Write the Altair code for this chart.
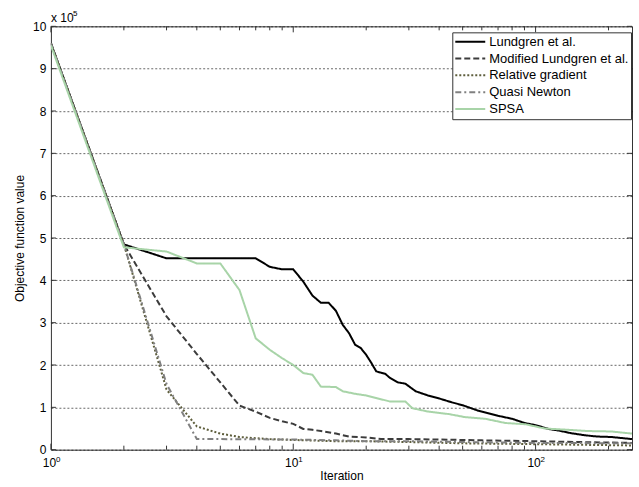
import altair as alt
import pandas as pd

# ---- data (objective value in units of 1e5) ----
lund_it = [1, 2, 3, 4, 5, 6, 7, 8, 9, 10, 11, 12, 13, 14, 15, 16, 17, 18, 19, 20, 21, 22, 23, 24, 25, 27, 29, 32, 36, 40, 45, 50, 58, 65, 70, 80, 90, 100, 113, 125, 140, 160, 180, 205, 250]
lund_v = [9.6, 4.85, 4.52, 4.52, 4.52, 4.52, 4.52, 4.32, 4.26, 4.26, 3.97, 3.64, 3.47, 3.47, 3.28, 2.95, 2.75, 2.48, 2.40, 2.24, 2.05, 1.85, 1.82, 1.79, 1.70, 1.59, 1.56, 1.38, 1.28, 1.21, 1.12, 1.05, 0.92, 0.85, 0.80, 0.73, 0.63, 0.58, 0.49, 0.45, 0.39, 0.34, 0.31, 0.30, 0.25]

mod_it = [1, 2, 3, 4, 5, 6, 7, 8, 9, 10, 11, 12, 13, 15, 17, 20, 23, 30, 40, 60, 100, 150, 250]
mod_v = [9.6, 4.85, 3.15, 2.26, 1.59, 1.04, 0.90, 0.75, 0.67, 0.61, 0.49, 0.47, 0.44, 0.38, 0.31, 0.29, 0.25, 0.25, 0.24, 0.22, 0.20, 0.18, 0.16]

rel_it = [1, 2, 3, 4, 5, 6, 7, 8, 10, 15, 20, 30, 50, 100, 250]
rel_v = [9.6, 4.85, 1.42, 0.55, 0.38, 0.30, 0.27, 0.25, 0.23, 0.20, 0.20, 0.18, 0.15, 0.13, 0.10]

qn_it = [1, 2, 3, 4, 5, 10, 15, 20, 30, 50, 100, 250]
qn_v = [9.6, 4.85, 1.55, 0.25, 0.25, 0.24, 0.22, 0.20, 0.20, 0.18, 0.16, 0.15]

spsa_it = [1, 2, 3, 4, 5, 6, 7, 8, 9, 10, 11, 12, 13, 15, 16, 18, 20, 22, 25, 29, 31, 36, 44, 51, 62, 75, 91, 109, 136, 165, 205, 250]
spsa_v = [9.55, 4.78, 4.68, 4.40, 4.40, 3.77, 2.63, 2.36, 2.16, 2.00, 1.81, 1.77, 1.49, 1.48, 1.38, 1.32, 1.28, 1.22, 1.14, 1.14, 0.98, 0.90, 0.84, 0.77, 0.73, 0.63, 0.60, 0.50, 0.47, 0.44, 0.43, 0.38]

series_names = ["Lundgren et al.", "Modified Lundgren et al.", "Relative gradient", "Quasi Newton", "SPSA"]
series_colors = ["#000000", "#3c3c3c", "#5e5e3c", "#808080", "#a8d4a8"]
series_dashes = [[1, 0], [6, 3], [2, 2], [6, 3, 2, 3], [1, 0]]

x_major = [1, 10, 100]
x_minor = [2, 3, 4, 5, 6, 7, 8, 9, 20, 30, 40, 50, 60, 70, 80, 90, 200]
y_ticks = [0, 1, 2, 3, 4, 5, 6, 7, 8, 9, 10]
exponents = ["0", "1", "2"]

rows = []
for name, its, vals in zip(series_names,
                           [lund_it, mod_it, rel_it, qn_it, spsa_it],
                           [lund_v, mod_v, rel_v, qn_v, spsa_v]):
    for i, v in zip(its, vals):
        rows.append({"Iteration": i, "Value": v, "Series": name})
df = pd.DataFrame(rows)

W, H = 582, 424
FONT = "Liberation Sans"

xscale = alt.Scale(type="log", domain=[1, 250], nice=False)
yscale = alt.Scale(domain=[0, 10], nice=False)

lines = alt.Chart(df).mark_line(strokeWidth=2, clip=True).encode(
    x=alt.X("Iteration:Q", scale=xscale,
            axis=alt.Axis(title="Iteration", values=x_major + x_minor,
                          labelExpr="datum.value == 1 || datum.value == 10 || datum.value == 100 ? '10' : ''",
                          grid=False, ticks=False, tickSize=0, domain=False,
                          labelPadding=8, labelOffset=-2, labelFlush=False, labelOverlap=False,
                          titlePadding=2)),
    y=alt.Y("Value:Q", scale=yscale,
            axis=alt.Axis(title="Objective function value", values=y_ticks, format="d",
                          grid=True, gridDash=[2, 2], gridColor="#000000", gridOpacity=0.75,
                          gridWidth=0.8, ticks=False, tickSize=0, domain=False,
                          labelPadding=5, labelFlush=False, titlePadding=6)),
    color=alt.Color("Series:N", scale=alt.Scale(domain=series_names, range=series_colors), title=None,
                    legend=alt.Legend(orient="none", legendX=402, legendY=6)),
    strokeDash=alt.StrokeDash("Series:N", scale=alt.Scale(domain=series_names, range=series_dashes), title=None,
                              legend=alt.Legend(orient="none", legendX=402, legendY=6)),
    order=alt.Order("Iteration:Q"),
)

maj_df = pd.DataFrame({"t": x_major})
min_df = pd.DataFrame({"t": x_minor})
yt_df = pd.DataFrame({"v": y_ticks})
exp_df = pd.DataFrame({"t": x_major, "e": exponents})

tick_color = "#333333"
xb_major = alt.Chart(maj_df).mark_rule(color=tick_color, strokeWidth=1).encode(
    x=alt.X("t:Q", scale=xscale), y=alt.value(H), y2=alt.value(H - 6))
xt_major = alt.Chart(maj_df).mark_rule(color=tick_color, strokeWidth=1).encode(
    x=alt.X("t:Q", scale=xscale), y=alt.value(0), y2=alt.value(6))
xb_minor = alt.Chart(min_df).mark_rule(color=tick_color, strokeWidth=1).encode(
    x=alt.X("t:Q", scale=xscale), y=alt.value(H), y2=alt.value(H - 4))
xt_minor = alt.Chart(min_df).mark_rule(color=tick_color, strokeWidth=1).encode(
    x=alt.X("t:Q", scale=xscale), y=alt.value(0), y2=alt.value(4))
yl = alt.Chart(yt_df).mark_rule(color=tick_color, strokeWidth=1).encode(
    y=alt.Y("v:Q", scale=yscale), x=alt.value(0), x2=alt.value(5))
yr = alt.Chart(yt_df).mark_rule(color=tick_color, strokeWidth=1).encode(
    y=alt.Y("v:Q", scale=yscale), x=alt.value(W), x2=alt.value(W - 5))

exp_text = alt.Chart(exp_df).mark_text(font=FONT, fontSize=8, align="left", baseline="top", dx=5, color="#000000").encode(
    x=alt.X("t:Q", scale=xscale), y=alt.value(H + 6), text="e:N")

mult_df = pd.DataFrame({"s": ["x 10"], "e": ["5"]})
mult = alt.Chart(mult_df).mark_text(font=FONT, fontSize=12, align="left", baseline="alphabetic", color="#000000").encode(
    x=alt.value(0), y=alt.value(-4), text="s:N")
mult_exp = alt.Chart(mult_df).mark_text(font=FONT, fontSize=8, align="left", baseline="alphabetic", color="#000000").encode(
    x=alt.value(22), y=alt.value(-10), text="e:N")

chart = alt.layer(
    lines, xb_major, xt_major, xb_minor, xt_minor, yl, yr, exp_text, mult, mult_exp
).properties(
    width=W, height=H,
    autosize=alt.AutoSizeParams(type="none"),
    padding={"left": 51, "top": 26, "right": 7, "bottom": 37},
    background="white",
).configure_view(
    stroke="#333333", strokeWidth=1
).configure_axis(
    labelFont=FONT, labelFontSize=12, labelColor="#000000",
    titleFont=FONT, titleFontSize=12, titleColor="#000000", titleFontWeight="normal",
).configure_legend(
    symbolType="stroke", symbolSize=900, symbolStrokeWidth=2,
    labelFont=FONT, labelFontSize=13, labelColor="#000000",
    fillColor="white", strokeColor="#333333", padding=2, rowPadding=1.8, clipHeight=15,
    labelOffset=3, cornerRadius=0,
)

chart.save("out.html", embed_options={"renderer": "svg", "actions": False})
